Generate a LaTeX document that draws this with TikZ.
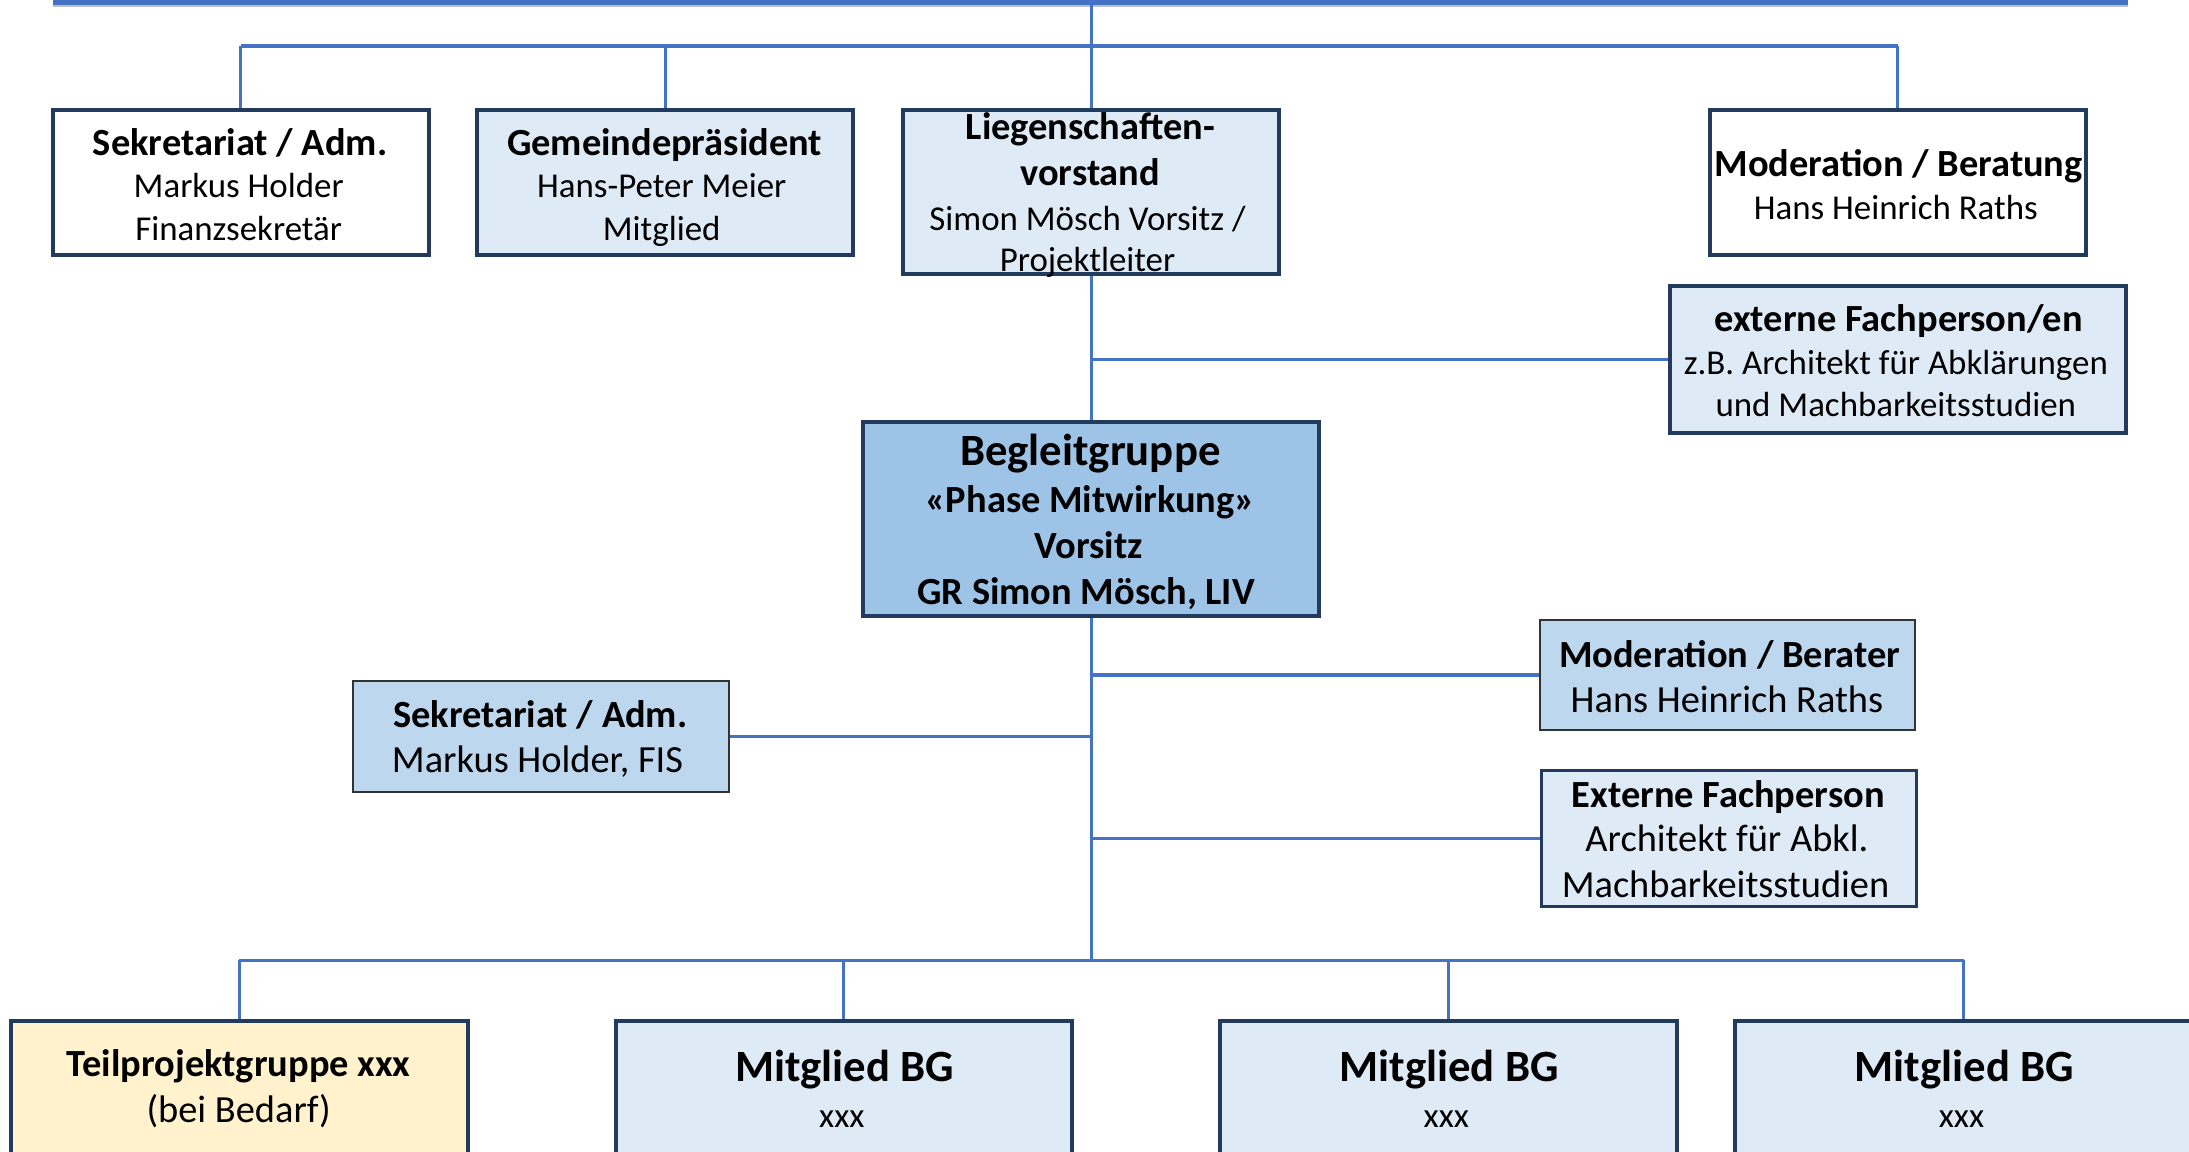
\documentclass[tikz,border=0pt]{standalone}
\usepackage{fontspec}
\setmainfont{Carlito}
\usetikzlibrary{fit}
\definecolor{lineblue}{HTML}{4472C4}
\definecolor{navy}{HTML}{223A5E}
\definecolor{paleblue}{HTML}{DEEBF7}
\definecolor{midblue}{HTML}{BDD7EE}
\definecolor{strongblue}{HTML}{9DC3E6}
\definecolor{paleyellow}{HTML}{FFF2CC}
\begin{document}
\begin{tikzpicture}[x=1.396pt,y=-1.396pt,
  conn/.style={draw=lineblue, line width=3pt},
  hconn/.style={draw=lineblue, line width=3.5pt},
  thickbox/.style={draw=navy, line width=4pt, inner sep=0pt},
  thinbox/.style={draw=black!80, line width=2pt, inner sep=0pt},
  tA/.style={font=\fontsize{34.9}{42}\selectfont, anchor=base, inner sep=0pt, yshift=-2.6pt},
  tBr/.style={font=\fontsize{38.4}{46}\selectfont, anchor=base, inner sep=0pt, yshift=-2.6pt},
  tB/.style={font=\bfseries\fontsize{38.4}{46}\selectfont, anchor=base, inner sep=0pt, yshift=-2.6pt},
  tC/.style={font=\bfseries\fontsize{44.7}{54}\selectfont, anchor=base, inner sep=0pt, yshift=-2.6pt}]
\useasboundingbox (0,0) rectangle (1568,825);
\clip (0,0) rectangle (1568,825);
\fill[white] (0,0) rectangle (1568,825);

% top bar
\node (topbar) [fill=lineblue, inner sep=0pt, fit={(38,-10) (1524,3.5)}] {};
\fill[black!25] (38,3.5) rectangle (1524,5);

% boxes
\node (sek1) [thickbox, fill=white, fit={(38,79) (307,183)}] {};
\node (gem)  [thickbox, fill=paleblue, fit={(342,79) (611,183)}] {};
\node (lieg) [thickbox, fill=paleblue, fit={(647,79) (916,196)}] {};
\node (modb) [thickbox, fill=white, fit={(1225,79) (1494,183)}] {};
\node (ext1) [thickbox, fill=paleblue, fit={(1196,205) (1523,310)}] {};
\node (beg)  [thickbox, fill=strongblue, fit={(618,302) (945,441)}] {};
\node (mod2) [thinbox, fill=midblue, fit={(1103,444) (1372,523)}] {};
\node (sek2) [thinbox, fill=midblue, fit={(253,488) (522,567)}] {};
\node (ext2) [thickbox, line width=3pt, fill=paleblue, fit={(1104,552) (1373,649)}] {};
\node (teil) [thickbox, fill=paleyellow, fit={(8,731) (335,900)}] {};
\node (m1)   [thickbox, fill=paleblue, fit={(441,731) (768,900)}] {};
\node (m2)   [thickbox, fill=paleblue, fit={(874,731) (1201,900)}] {};
\node (m3)   [thickbox, fill=paleblue, fit={(1243,731) (1570,900)}] {};

% connectors
\coordinate (r1) at (0,33);
\coordinate (r2) at (0,688);
\draw[conn] (lieg.north) -- (lieg.north |- topbar.south);
\draw[hconn] (sek1.north |- r1) -- (modb.north |- r1);
\draw[conn] (sek1.north) -- (sek1.north |- r1);
\draw[conn] (gem.north) -- (gem.north |- r1);
\draw[conn] (modb.north) -- (modb.north |- r1);
\draw[conn] (lieg.south) -- (beg.north);
\draw[hconn] (ext1.west) -- (ext1.west -| beg.north);
\draw[conn] (beg.south) -- (beg.south |- r2);
\draw[hconn] (mod2.west) -- (mod2.west -| beg.south);
\draw[hconn] (sek2.east) -- (sek2.east -| beg.south);
\draw[hconn] (ext2.west) -- (ext2.west -| beg.south);
\draw[hconn] (teil.north |- r2) -- (m3.north |- r2);
\draw[conn] (teil.north) -- (teil.north |- r2);
\draw[conn] (m1.north) -- (m1.north |- r2);
\draw[conn] (m2.north) -- (m2.north |- r2);
\draw[conn] (m3.north) -- (m3.north |- r2);

% texts
\node (sek1a) [tB] at (172,109.3) {Sekretariat / Adm.};
\node (sek1b) [tA] at (171,139.5) {Markus Holder};
\node (sek1c) [tA] at (171,170.5) {Finanzsekretär};

\node (gema) [tB] at (476,109.3) {Gemeindepräsident};
\node (gemb) [tA] at (474,139.5) {Hans-Peter Meier};
\node (gemc) [tA] at (474,170.5) {Mitglied};

\node (liega) [tB] at (781,98.3) {Liegenschaften-};
\node (liegb) [tB] at (781,131.3) {vorstand};
\node (liegc) [tA] at (779,163.5) {Simon Mösch Vorsitz /};
\node (liegd) [tA] at (779,192.5) {Projektleiter};

\node (modba) [tB] at (1360,124.3) {Moderation / Beratung};
\node (modbb) [tA] at (1358,155.5) {Hans Heinrich Raths};

\node (ext1a) [tB] at (1360,235.3) {externe Fachperson/en};
\node (ext1b) [tA] at (1358,266.5) {z.B. Architekt für Abklärungen};
\node (ext1c) [tA] at (1358,296.5) {und Machbarkeitsstudien};

\node (bega) [tC] at (781,331.6) {Begleitgruppe};
\node (begb) [tB] at (781,365.3) {«Phase Mitwirkung»};
\node (begc) [tB] at (780,398.3) {Vorsitz};
\node (begd) [tB] at (778,431.3) {GR Simon Mösch, LIV};

\node (mod2a) [tB] at (1239,476.3) {Moderation / Berater};
\node (mod2b) [tBr] at (1237,508.3) {Hans Heinrich Raths};

\node (sek2a) [tB] at (387,519.3) {Sekretariat / Adm.};
\node (sek2b) [tBr] at (385,551.3) {Markus Holder, FIS};

\node (ext2a) [tB] at (1238,576.3) {Externe Fachperson};
\node (ext2b) [tBr] at (1237,608.3) {Architekt für Abkl.};
\node (ext2c) [tBr] at (1236,641.3) {Machbarkeitsstudien};

\node (teila) [tB] at (171,769.3) {Teilprojektgruppe xxx};
\node (teilb) [tBr] at (171,802.3) {(bei Bedarf)};

\node (m1a) [tC] at (605,772.6) {Mitglied BG};
\node (m1b) [tA] at (603,806) {xxx};
\node (m2a) [tC] at (1038,772.6) {Mitglied BG};
\node (m2b) [tA] at (1036,806) {xxx};
\node (m3a) [tC] at (1407,772.6) {Mitglied BG};
\node (m3b) [tA] at (1405,806) {xxx};
\end{tikzpicture}
\end{document}
